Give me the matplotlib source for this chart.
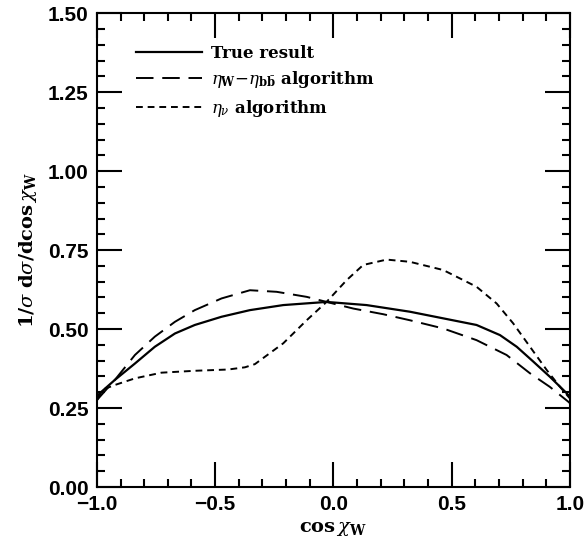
import matplotlib
matplotlib.use('Agg')
import numpy as np
import matplotlib.pyplot as plt
from matplotlib.ticker import MultipleLocator, FuncFormatter

x_true = [-1.0, -0.980, -0.924, -0.839, -0.755, -0.670, -0.586, -0.473, -0.353, -0.212, -0.029,
          0.140, 0.323, 0.464, 0.605, 0.704, 0.775, 0.845, 0.915, 0.986, 1.0]
y_true = [0.275, 0.302, 0.339, 0.391, 0.444, 0.486, 0.513, 0.539, 0.560, 0.576, 0.586,
          0.576, 0.555, 0.534, 0.513, 0.481, 0.444, 0.397, 0.349, 0.297, 0.285]

x_wbb = [-1.0, -0.924, -0.839, -0.755, -0.670, -0.586, -0.473, -0.353, -0.240, -0.113, -0.029,
         0.084, 0.211, 0.323, 0.464, 0.605, 0.732, 0.831, 0.915, 0.993, 1.0]
y_wbb = [0.275, 0.339, 0.418, 0.476, 0.523, 0.560, 0.597, 0.623, 0.618, 0.602, 0.586,
         0.565, 0.547, 0.528, 0.502, 0.465, 0.418, 0.360, 0.317, 0.270, 0.265]

x_nu = [-1.0, -0.980, -0.924, -0.839, -0.727, -0.586, -0.445, -0.374, -0.332, -0.212, -0.113,
        -0.029, 0.056, 0.126, 0.225, 0.323, 0.464, 0.605, 0.690, 0.760, 0.831, 0.902, 0.958, 1.0]
y_nu = [0.285, 0.307, 0.323, 0.344, 0.362, 0.368, 0.372, 0.379, 0.389, 0.455, 0.528,
        0.586, 0.655, 0.703, 0.720, 0.713, 0.687, 0.634, 0.581, 0.518, 0.444, 0.370, 0.317, 0.280]

labels = ['True result', r'$\eta_{\mathbf{W}}$$-$$\eta_{\mathbf{b\bar{b}}}$ algorithm', r'$\eta_{\nu}$ algorithm']

plt.rcParams['mathtext.fontset'] = 'dejavuserif'
plt.rcParams['font.family'] = 'DejaVu Serif'

fig = plt.figure(figsize=(5.87, 5.5), dpi=100)
ax = fig.add_axes([0.165, 0.1145, 0.806, 0.8615])

ax.plot(x_true, y_true, color='black', lw=1.6, label=labels[0])
ax.plot(x_wbb, y_wbb, color='black', lw=1.4, dashes=(9, 4.5), label=labels[1])
ax.plot(x_nu, y_nu, color='black', lw=1.4, dashes=(3.5, 2.5), label=labels[2])

ax.set_xlim(-1, 1)
ax.set_ylim(0, 1.5)
ax.xaxis.set_major_locator(MultipleLocator(0.5))
ax.xaxis.set_minor_locator(MultipleLocator(0.1))
ax.yaxis.set_major_locator(MultipleLocator(0.25))
ax.yaxis.set_minor_locator(MultipleLocator(0.05))
ax.xaxis.set_major_formatter(FuncFormatter(lambda v, p: ('%.1f' % v).replace('-', '\u2212')))
ax.yaxis.set_major_formatter(FuncFormatter(lambda v, p: '%.2f' % v))
ax.tick_params(which='both', direction='in', top=True, right=True, width=1.5, color='black')
ax.tick_params(which='major', length=18, pad=6)
ax.tick_params(which='minor', length=6)
for lab in ax.get_xticklabels() + ax.get_yticklabels():
    lab.set_fontfamily('Liberation Sans')
    lab.set_fontsize(15)
    lab.set_fontweight('bold')
for s in ax.spines.values():
    s.set_linewidth(1.5)

ax.set_xlabel(r'$\mathbf{cos}\,\chi_{\mathbf{W}}$', fontsize=14, labelpad=4)
ax.set_ylabel(r'$\mathbf{1/}\sigma\ \mathbf{d}\sigma\mathbf{/dcos}\,\chi_{\mathbf{W}}$', fontsize=14, labelpad=6)

leg = ax.legend(loc='upper left', bbox_to_anchor=(0.05, 0.965), frameon=False,
                handlelength=4.0, handletextpad=0.55, labelspacing=0.45,
                prop={'family': 'DejaVu Serif', 'weight': 'bold', 'size': 12})

fig.savefig('out.png', dpi=100)
